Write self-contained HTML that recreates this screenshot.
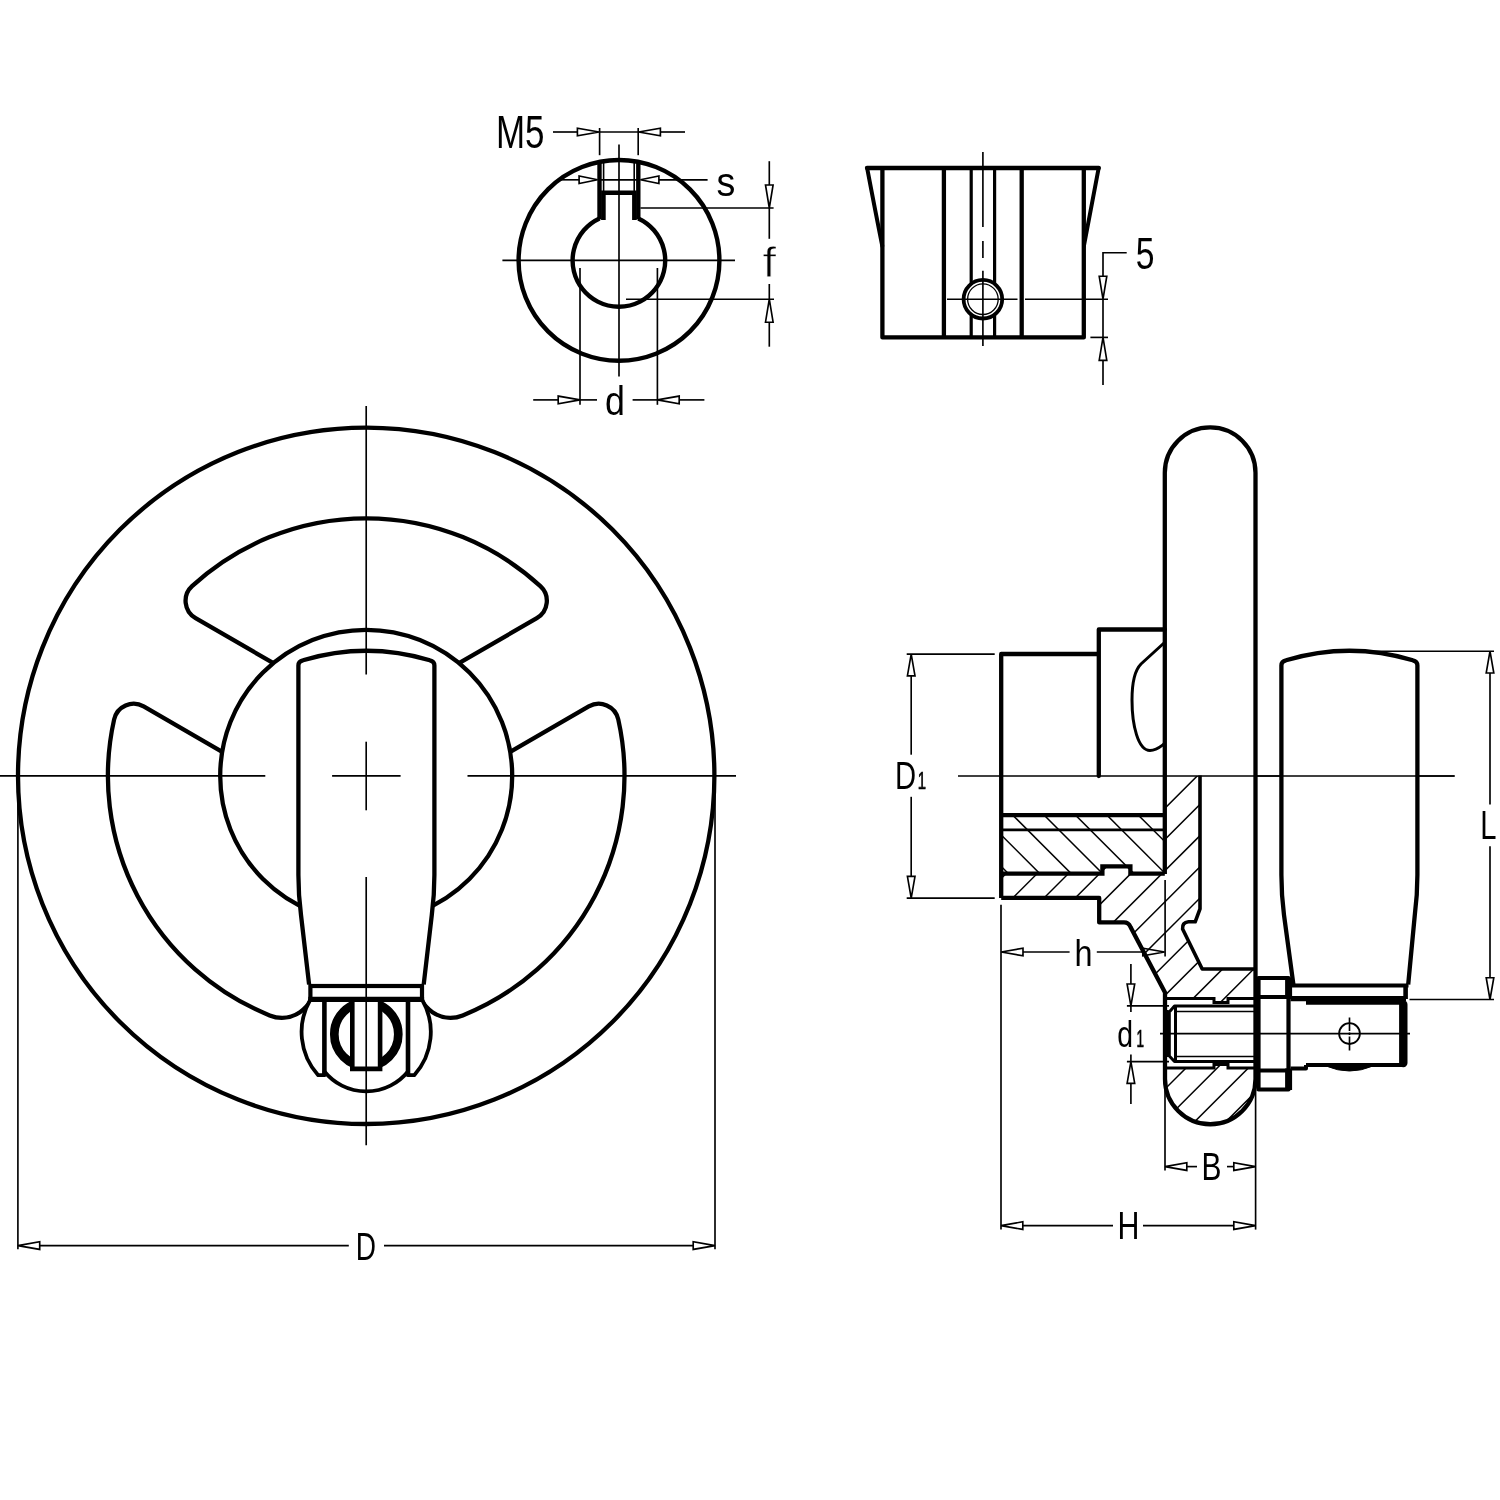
<!DOCTYPE html>
<html><head><meta charset="utf-8"><title>Handwheel drawing</title>
<style>
html,body{margin:0;padding:0;background:#fff}
svg{display:block}
svg *{stroke:#000}
text{font-family:"Liberation Sans",sans-serif;stroke:none;filter:grayscale(1)}
text.sb{stroke:#000;stroke-width:3px}
text.er{stroke:#fff;stroke-width:2.4px}
</style></head>
<body>
<svg width="1500" height="1500" viewBox="0 0 1500 1500" fill="none" stroke="#000" stroke-linecap="butt">
<rect x="0" y="0" width="1500" height="1500" fill="#fff" stroke="none" style="stroke:none"/>
<circle cx="619" cy="260.4" r="100.4" stroke-width="4.4" fill="none"/>
<path d="M599.5,218.41 A46.3,46.3 0 1 0 638.3,218.41" stroke-width="4.4" fill="none"/>
<line x1="599.5" y1="161.91" x2="599.5" y2="219.41" stroke-width="4.4"/>
<line x1="638.3" y1="161.91" x2="638.3" y2="219.41" stroke-width="4.4"/>
<path d="M603.4,219.91 V192.8 H634.4 V219.91" stroke-width="4.6" fill="none" stroke-linejoin="miter"/>
<line x1="603.6" y1="162.91" x2="603.6" y2="191" stroke-width="1.6"/>
<line x1="634.2" y1="162.91" x2="634.2" y2="191" stroke-width="1.6"/>
<line x1="502.4" y1="260.4" x2="735" y2="260.4" stroke-width="1.65"/>
<line x1="619" y1="144.4" x2="619" y2="376.5" stroke-width="1.65"/>
<line x1="599.6" y1="128" x2="599.6" y2="155.2" stroke-width="1.65"/>
<line x1="638.2" y1="128" x2="638.2" y2="155.2" stroke-width="1.65"/>
<polygon points="599.2,132 577.4,135.8 577.4,128.2" fill="none" stroke-width="1.65" stroke-linejoin="miter" stroke-miterlimit="3"/>
<line x1="553" y1="132" x2="577.4" y2="132" stroke-width="1.65"/>
<polygon points="638.6,132 660.4,128.2 660.4,135.8" fill="none" stroke-width="1.65" stroke-linejoin="miter" stroke-miterlimit="3"/>
<line x1="660.4" y1="132" x2="685" y2="132" stroke-width="1.65"/>
<line x1="599.6" y1="132" x2="638.2" y2="132" stroke-width="1.65"/>
<text transform="translate(496,148.2) scale(0.3496,0.4551)" font-size="100" fill="#000">M5</text>
<polygon points="597.6,179.8 579.1,183.6 579.1,176" fill="none" stroke-width="1.65" stroke-linejoin="miter" stroke-miterlimit="3"/>
<line x1="560" y1="179.8" x2="579.1" y2="179.8" stroke-width="1.65"/>
<polygon points="640.4,179.8 658.9,176 658.9,183.6" fill="none" stroke-width="1.65" stroke-linejoin="miter" stroke-miterlimit="3"/>
<line x1="658.9" y1="179.8" x2="707.6" y2="179.8" stroke-width="1.65"/>
<line x1="601" y1="179.8" x2="637" y2="179.8" stroke-width="1.65"/>
<text transform="translate(716.47,195.6) scale(0.3770,0.4037)" font-size="100" fill="#000">s</text>
<line x1="640.4" y1="208" x2="773.6" y2="208" stroke-width="1.65"/>
<line x1="626" y1="299.2" x2="774" y2="299.2" stroke-width="1.65"/>
<line x1="769.3" y1="161.2" x2="769.3" y2="185" stroke-width="1.65"/>
<polygon points="769.3,208 765.5,185 773.1,185" fill="none" stroke-width="1.65" stroke-linejoin="miter" stroke-miterlimit="3"/>
<line x1="769.3" y1="208" x2="769.3" y2="238.8" stroke-width="1.65"/>
<line x1="769.3" y1="284" x2="769.3" y2="299.2" stroke-width="1.65"/>
<polygon points="769.3,299.2 773.1,322.2 765.5,322.2" fill="none" stroke-width="1.65" stroke-linejoin="miter" stroke-miterlimit="3"/>
<line x1="769.3" y1="322" x2="769.3" y2="346.7" stroke-width="1.65"/>
<text transform="translate(762.14,277) scale(0.5057,0.4303)" font-size="100" fill="#000" class="er">f</text>
<line x1="580" y1="268" x2="580" y2="404.8" stroke-width="1.65"/>
<line x1="657.4" y1="268" x2="657.4" y2="404.8" stroke-width="1.65"/>
<polygon points="580,399.9 558.2,403.7 558.2,396.1" fill="none" stroke-width="1.65" stroke-linejoin="miter" stroke-miterlimit="3"/>
<line x1="533.2" y1="399.9" x2="558.2" y2="399.9" stroke-width="1.65"/>
<line x1="580" y1="399.9" x2="597" y2="399.9" stroke-width="1.65"/>
<polygon points="657.4,399.9 679.2,396.1 679.2,403.7" fill="none" stroke-width="1.65" stroke-linejoin="miter" stroke-miterlimit="3"/>
<line x1="679.2" y1="399.9" x2="704.4" y2="399.9" stroke-width="1.65"/>
<line x1="632.6" y1="399.9" x2="657.4" y2="399.9" stroke-width="1.65"/>
<text transform="translate(605.07,415.39) scale(0.3578,0.4150)" font-size="100" fill="#000">d</text>
<path d="M867,168 H1098.8" stroke-width="4.3" fill="none" stroke-linecap="round"/>
<path d="M882.4,168 V337.4 H1083.8 V168" stroke-width="4.3" fill="none" stroke-linejoin="round"/>
<path d="M867.2,168.3 Q875.5,212 882.3,246" stroke-width="4" fill="none" stroke-linecap="round"/>
<path d="M1098.6,168.3 Q1090.5,212 1083.9,246" stroke-width="4" fill="none" stroke-linecap="round"/>
<line x1="943.9" y1="168" x2="943.9" y2="337.4" stroke-width="4.3"/>
<line x1="1021.7" y1="168" x2="1021.7" y2="337.4" stroke-width="4.3"/>
<line x1="971.2" y1="168" x2="971.2" y2="337.4" stroke-width="3.2"/>
<line x1="994.6" y1="168" x2="994.6" y2="337.4" stroke-width="3.2"/>
<circle cx="982.9" cy="299.2" r="19.3" stroke-width="3.8" fill="#fff"/>
<circle cx="982.9" cy="299.2" r="15.3" stroke-width="1.3" fill="none"/>
<line x1="982.9" y1="152" x2="982.9" y2="227" stroke-width="1.65"/>
<line x1="982.9" y1="241" x2="982.9" y2="258" stroke-width="1.65"/>
<line x1="982.9" y1="270.8" x2="982.9" y2="346" stroke-width="1.65"/>
<line x1="947" y1="299.2" x2="1017.5" y2="299.2" stroke-width="1.65"/>
<line x1="1025" y1="299.2" x2="1108" y2="299.2" stroke-width="1.65"/>
<path d="M1126.7,252.7 H1103 V276" stroke-width="1.65" fill="none"/>
<polygon points="1103,299.2 1099.2,276.2 1106.8,276.2" fill="none" stroke-width="1.65" stroke-linejoin="miter" stroke-miterlimit="3"/>
<line x1="1103" y1="299.2" x2="1103" y2="337.4" stroke-width="1.65"/>
<line x1="1090.4" y1="337.4" x2="1108" y2="337.4" stroke-width="1.65"/>
<polygon points="1103,337.4 1106.8,360.4 1099.2,360.4" fill="none" stroke-width="1.65" stroke-linejoin="miter" stroke-miterlimit="3"/>
<line x1="1103" y1="360.4" x2="1103" y2="385" stroke-width="1.65"/>
<text transform="translate(1135.65,268.56) scale(0.3368,0.4429)" font-size="100" fill="#000">5</text>
<circle cx="366.2" cy="775.8" r="348.2" stroke-width="4.3" fill="none"/>
<path d="M273.39,663.1 L195.58,618.17 A20,20 0 0 1 192.05,586.12 A257.5,257.5 0 0 1 540.35,586.12 A20,20 0 0 1 536.82,618.17 L459.01,663.1" stroke-width="4.3" fill="none" stroke-linejoin="round"/>
<path d="M314.2,912.23 L314.2,985.34 A32.4,32.4 0 0 1 269.69,1015.39 A258.3,258.3 0 0 1 114.14,719.39 A20,20 0 0 1 143.65,706.43 L222.19,751.78" stroke-width="4.3" fill="none" stroke-linejoin="round"/>
<path d="M510.21,751.78 L588.75,706.43 A20,20 0 0 1 618.26,719.39 A258.3,258.3 0 0 1 462.71,1015.39 A32.4,32.4 0 0 1 418.2,985.34 L418.2,912.23" stroke-width="4.3" fill="none" stroke-linejoin="round"/>
<circle cx="366.2" cy="775.8" r="146" stroke-width="4.3" fill="none"/>
<path d="M310.37,999.5 A64.6,64.6 0 0 0 318.17,1075.2 L324.4,1075.2 L324.4,1071.5 A53.8,53.8 0 0 0 408,1071.5 L408,1075.2 L414.23,1075.2 A64.6,64.6 0 0 0 422.03,999.5 Z" stroke-width="3.8" fill="#fff" stroke-linejoin="round"/>
<line x1="324.4" y1="1000" x2="324.4" y2="1074" stroke-width="4.6"/>
<line x1="408" y1="1000" x2="408" y2="1074" stroke-width="4.6"/>
<clipPath id="rc"><rect x="320" y="1000" width="33" height="80"/><rect x="379.5" y="1000" width="33" height="80"/></clipPath>
<circle cx="366.3" cy="1034.2" r="32" stroke-width="8.7" fill="none" clip-path="url(#rc)"/>
<path d="M352.3,1000 V1068.9 M380.1,1000 V1068.9 M350,1068.9 H382.4" stroke-width="4.6" fill="none"/>
<path d="M309.1,984.5 L301,915 Q298.4,895 298.4,875 L298.4,665.5 Q298.4,661.2 303,660.3 A220,220 0 0 1 429.8,660.3 Q434.4,661.2 434.4,665.5 L434.4,875 Q434.4,895 431.8,915 L423.7,984.5" stroke-width="4.3" fill="#fff" stroke-linejoin="round"/>
<rect x="310.4" y="986" width="111.6" height="13.2" fill="#fff" stroke-width="4.2"/>
<line x1="308.3" y1="999.4" x2="424.1" y2="999.4" stroke-width="5.2"/>
<line x1="366.2" y1="406" x2="366.2" y2="674.5" stroke-width="1.65"/>
<line x1="366.2" y1="741.7" x2="366.2" y2="810.3" stroke-width="1.65"/>
<line x1="366.2" y1="877" x2="366.2" y2="1145.3" stroke-width="1.65"/>
<line x1="0" y1="775.8" x2="265.3" y2="775.8" stroke-width="1.65"/>
<line x1="332.1" y1="775.8" x2="400.6" y2="775.8" stroke-width="1.65"/>
<line x1="467.5" y1="775.8" x2="736" y2="775.8" stroke-width="1.65"/>
<line x1="17.9" y1="776" x2="17.9" y2="1249.3" stroke-width="1.65"/>
<line x1="715" y1="776" x2="715" y2="1249.3" stroke-width="1.65"/>
<polygon points="17.9,1245.6 39.7,1241.8 39.7,1249.4" fill="none" stroke-width="1.65" stroke-linejoin="miter" stroke-miterlimit="3"/>
<line x1="39.7" y1="1245.6" x2="348.8" y2="1245.6" stroke-width="1.65"/>
<polygon points="715,1245.6 693.2,1249.4 693.2,1241.8" fill="none" stroke-width="1.65" stroke-linejoin="miter" stroke-miterlimit="3"/>
<line x1="384" y1="1245.6" x2="693.2" y2="1245.6" stroke-width="1.65"/>
<text transform="translate(355.75,1259.5) scale(0.2807,0.3913)" font-size="100" fill="#000">D</text>
<path d="M1164.8,874 V472.8 A45.35,45.35 0 0 1 1255.5,472.8 V1079" stroke-width="4.3" fill="none"/>
<path d="M1001.2,898 V654 H1098.8" stroke-width="4.3" fill="none" stroke-linejoin="round"/>
<path d="M1098.8,776 V629.5 H1164.8" stroke-width="4.3" fill="none" stroke-linejoin="round" stroke-linecap="round"/>
<path d="M1164,643 L1141,664 C1133,672 1132,690 1132,700 C1132,725 1138,750.5 1150,750.5 C1156,750.5 1160,747 1164,744" stroke-width="3" fill="none"/>
<clipPath id="cb"><path d="M1001.2,873.6 H1102.4 V866.4 H1130.4 V873.6 H1164.8 V776 H1200 V908.8 L1195.2,921.8 H1188.5 Q1182,922.5 1182.6,929 L1202.2,969 H1255.5 V998.5 H1228 V1002.5 H1214 V998.5 H1165 V992.5 L1130.5,927 Q1128.5,922.4 1124,922.4 H1099.2 V897.9 H1001.2 Z"/><path d="M1165,1068 H1214 V1064.5 H1228 V1068 H1255.5 V1079 A45.25,45.25 0 0 1 1165,1079 Z"/></clipPath>
<clipPath id="ci"><rect x="1001.2" y="815.2" width="163.6" height="58.4"/></clipPath>
<g clip-path="url(#cb)">
<line x1="1148.4" y1="700" x2="648.4" y2="1200" stroke-width="1.5"/>
<line x1="1179.6" y1="700" x2="679.6" y2="1200" stroke-width="1.5"/>
<line x1="1210.8" y1="700" x2="710.8" y2="1200" stroke-width="1.5"/>
<line x1="1242" y1="700" x2="742" y2="1200" stroke-width="1.5"/>
<line x1="1273.2" y1="700" x2="773.2" y2="1200" stroke-width="1.5"/>
<line x1="1304.4" y1="700" x2="804.4" y2="1200" stroke-width="1.5"/>
<line x1="1335.6" y1="700" x2="835.6" y2="1200" stroke-width="1.5"/>
<line x1="1366.8" y1="700" x2="866.8" y2="1200" stroke-width="1.5"/>
<line x1="1398" y1="700" x2="898" y2="1200" stroke-width="1.5"/>
<line x1="1429.2" y1="700" x2="929.2" y2="1200" stroke-width="1.5"/>
<line x1="1460.4" y1="700" x2="960.4" y2="1200" stroke-width="1.5"/>
<line x1="1491.6" y1="700" x2="991.6" y2="1200" stroke-width="1.5"/>
<line x1="1522.8" y1="700" x2="1022.8" y2="1200" stroke-width="1.5"/>
<line x1="1554" y1="700" x2="1054" y2="1200" stroke-width="1.5"/>
<line x1="1585.2" y1="700" x2="1085.2" y2="1200" stroke-width="1.5"/>
<line x1="1616.4" y1="700" x2="1116.4" y2="1200" stroke-width="1.5"/>
<line x1="1647.6" y1="700" x2="1147.6" y2="1200" stroke-width="1.5"/>
<line x1="1678.8" y1="700" x2="1178.8" y2="1200" stroke-width="1.5"/>
<line x1="1710" y1="700" x2="1210" y2="1200" stroke-width="1.5"/>
</g>
<g clip-path="url(#ci)">
<line x1="903.4" y1="800" x2="1003.4" y2="900" stroke-width="1.5"/>
<line x1="934.8" y1="800" x2="1034.8" y2="900" stroke-width="1.5"/>
<line x1="966.2" y1="800" x2="1066.2" y2="900" stroke-width="1.5"/>
<line x1="997.6" y1="800" x2="1097.6" y2="900" stroke-width="1.5"/>
<line x1="1029" y1="800" x2="1129" y2="900" stroke-width="1.5"/>
<line x1="1060.4" y1="800" x2="1160.4" y2="900" stroke-width="1.5"/>
<line x1="1091.8" y1="800" x2="1191.8" y2="900" stroke-width="1.5"/>
<line x1="1123.2" y1="800" x2="1223.2" y2="900" stroke-width="1.5"/>
<line x1="1154.6" y1="800" x2="1254.6" y2="900" stroke-width="1.5"/>
<line x1="1186" y1="800" x2="1286" y2="900" stroke-width="1.5"/>
</g>
<line x1="1001.2" y1="815.2" x2="1164.8" y2="815.2" stroke-width="4.3"/>
<line x1="1001.2" y1="829.9" x2="1164.8" y2="829.9" stroke-width="2.6"/>
<path d="M1001.2,873.6 H1102.4 V866.4 H1130.4 V873.6 H1164.8" stroke-width="4.3" fill="none" stroke-linejoin="miter"/>
<path d="M1001.2,897.9 H1099.2 V922.4 H1124 Q1128.5,922.4 1130.5,927 L1165,992.5 V1079 A45.25,45.25 0 0 0 1255.5,1079" stroke-width="4.3" fill="none" stroke-linejoin="round"/>
<path d="M1200,775.4 V908.8 L1195.2,921.8 H1188.5 Q1182,922.5 1182.6,929 L1202.2,969 H1254" stroke-width="3.6" fill="none" stroke-linejoin="round"/>
<path d="M1165,998.5 H1214 V1002.5 H1228 V998.5 H1254" stroke-width="3" fill="none"/>
<path d="M1165,1068 H1214 V1064.5 H1228 V1068 H1254" stroke-width="3" fill="none"/>
<path d="M1254,1006 H1174.5 L1169.3,1012 V1056 L1174.5,1061.5 H1254" stroke-width="3" fill="none" stroke-linejoin="round"/>
<line x1="1175.5" y1="1006" x2="1175.5" y2="1061.5" stroke-width="3"/>
<line x1="1167.6" y1="1010" x2="1167.6" y2="1057" stroke-width="2.4"/>
<line x1="1175.5" y1="1011.5" x2="1254" y2="1011.5" stroke-width="1.5"/>
<line x1="1175.5" y1="1056.5" x2="1254" y2="1056.5" stroke-width="1.5"/>
<line x1="958" y1="776" x2="1454.6" y2="776" stroke-width="1.65"/>
<rect x="1258.5" y="978" width="30" height="111.5" fill="#fff" stroke-width="4.2" stroke-linejoin="round"/>
<line x1="1258.5" y1="997" x2="1288.5" y2="997" stroke-width="4"/>
<line x1="1258.5" y1="1070.5" x2="1288.5" y2="1070.5" stroke-width="4"/>
<line x1="1288.6" y1="977.5" x2="1288.6" y2="999" stroke-width="7"/>
<line x1="1288.6" y1="1068.5" x2="1288.6" y2="1090" stroke-width="7"/>
<path d="M1293.4,984.5 L1284,915 Q1281.4,895 1281.4,875 L1281.4,665.5 Q1281.4,661.2 1286,660.3 A220,220 0 0 1 1412.8,660.3 Q1417.4,661.2 1417.4,665.5 L1417.4,875 Q1417.4,895 1414.8,915 L1408.2,984.5" stroke-width="4.3" fill="#fff" stroke-linejoin="round"/>
<line x1="1255" y1="776" x2="1454.6" y2="776" stroke-width="1.65"/>
<line x1="1290.5" y1="985.5" x2="1408.5" y2="985.5" stroke-width="4.2"/>
<line x1="1405.6" y1="985.5" x2="1405.6" y2="999" stroke-width="4.6"/>
<line x1="1290.5" y1="998.6" x2="1406" y2="998.6" stroke-width="5.4"/>
<line x1="1306" y1="1002.4" x2="1404" y2="1002.4" stroke-width="4.6"/>
<path d="M1403.3,1004.5 V1063" stroke-width="8.4" fill="none" stroke-linecap="round"/>
<line x1="1306" y1="1065" x2="1403" y2="1065" stroke-width="4.2"/>
<path d="M1306,1065 V1068.5 H1290.5" stroke-width="4" fill="none" stroke-linejoin="round"/>
<path d="M1326,1066 Q1349.5,1076 1373,1066 Z" stroke-width="1" fill="#000"/>
<line x1="1160" y1="1033.6" x2="1410" y2="1033.6" stroke-width="1.65"/>
<circle cx="1349.5" cy="1033.6" r="10.4" stroke-width="1.8" fill="none"/>
<line x1="1349.5" y1="1017.5" x2="1349.5" y2="1031" stroke-width="1.65"/>
<line x1="1349.5" y1="1032.5" x2="1349.5" y2="1035" stroke-width="1.65"/>
<line x1="1349.5" y1="1036.5" x2="1349.5" y2="1050.5" stroke-width="1.65"/>
<line x1="906.7" y1="654.1" x2="994.7" y2="654.1" stroke-width="1.65"/>
<line x1="906.7" y1="898.1" x2="994.7" y2="898.1" stroke-width="1.65"/>
<polygon points="911.2,654.1 915,675.9 907.4,675.9" fill="none" stroke-width="1.65" stroke-linejoin="miter" stroke-miterlimit="3"/>
<line x1="911.2" y1="676" x2="911.2" y2="754.7" stroke-width="1.65"/>
<polygon points="911.2,898.1 907.4,876.3 915,876.3" fill="none" stroke-width="1.65" stroke-linejoin="miter" stroke-miterlimit="3"/>
<line x1="911.2" y1="796.8" x2="911.2" y2="876.1" stroke-width="1.65"/>
<text transform="translate(895.06,789.2) scale(0.2924,0.3913)" font-size="100" fill="#000">D</text>
<text transform="translate(917.68,789.2) scale(0.1488,0.2435)" font-size="100" fill="#000" class="sb">1</text>
<line x1="1001" y1="904.8" x2="1001" y2="1229.6" stroke-width="1.65"/>
<line x1="1165.1" y1="880" x2="1165.1" y2="956.5" stroke-width="1.65"/>
<polygon points="1001.2,952 1023,948.2 1023,955.8" fill="none" stroke-width="1.65" stroke-linejoin="miter" stroke-miterlimit="3"/>
<line x1="1023" y1="952" x2="1069.6" y2="952" stroke-width="1.65"/>
<polygon points="1164.6,952 1142.8,955.8 1142.8,948.2" fill="none" stroke-width="1.65" stroke-linejoin="miter" stroke-miterlimit="3"/>
<line x1="1096.8" y1="952" x2="1142.8" y2="952" stroke-width="1.65"/>
<text transform="translate(1074.53,965.6) scale(0.3238,0.3641)" font-size="100" fill="#000">h</text>
<line x1="1126.9" y1="1005.8" x2="1169" y2="1005.8" stroke-width="1.65"/>
<line x1="1126.9" y1="1061.6" x2="1169" y2="1061.6" stroke-width="1.65"/>
<line x1="1130.9" y1="964" x2="1130.9" y2="984" stroke-width="1.65"/>
<polygon points="1130.9,1005.8 1127.1,984 1134.7,984" fill="none" stroke-width="1.65" stroke-linejoin="miter" stroke-miterlimit="3"/>
<line x1="1130.9" y1="1005.8" x2="1130.9" y2="1012" stroke-width="1.65"/>
<line x1="1130.9" y1="1054.4" x2="1130.9" y2="1061.6" stroke-width="1.65"/>
<polygon points="1130.9,1061.6 1134.7,1083.4 1127.1,1083.4" fill="none" stroke-width="1.65" stroke-linejoin="miter" stroke-miterlimit="3"/>
<line x1="1130.9" y1="1083.6" x2="1130.9" y2="1104" stroke-width="1.65"/>
<text transform="translate(1117.26,1047.04) scale(0.2844,0.3619)" font-size="100" fill="#000">d</text>
<text transform="translate(1136.59,1047.2) scale(0.1349,0.2377)" font-size="100" fill="#000" class="sb">1</text>
<line x1="1165" y1="1079" x2="1165" y2="1170.4" stroke-width="1.65"/>
<line x1="1255.6" y1="1090" x2="1255.6" y2="1229.6" stroke-width="1.65"/>
<polygon points="1165,1166.6 1186.8,1162.8 1186.8,1170.4" fill="none" stroke-width="1.65" stroke-linejoin="miter" stroke-miterlimit="3"/>
<line x1="1186.8" y1="1166.6" x2="1197" y2="1166.6" stroke-width="1.65"/>
<polygon points="1255.6,1166.6 1233.8,1170.4 1233.8,1162.8" fill="none" stroke-width="1.65" stroke-linejoin="miter" stroke-miterlimit="3"/>
<line x1="1227" y1="1166.6" x2="1233.8" y2="1166.6" stroke-width="1.65"/>
<text transform="translate(1201.61,1180) scale(0.2991,0.3826)" font-size="100" fill="#000">B</text>
<polygon points="1001,1225.6 1022.8,1221.8 1022.8,1229.4" fill="none" stroke-width="1.65" stroke-linejoin="miter" stroke-miterlimit="3"/>
<line x1="1022.8" y1="1225.6" x2="1113" y2="1225.6" stroke-width="1.65"/>
<polygon points="1255.6,1225.6 1233.8,1229.4 1233.8,1221.8" fill="none" stroke-width="1.65" stroke-linejoin="miter" stroke-miterlimit="3"/>
<line x1="1143" y1="1225.6" x2="1233.8" y2="1225.6" stroke-width="1.65"/>
<text transform="translate(1117.57,1238.6) scale(0.3036,0.3855)" font-size="100" fill="#000">H</text>
<line x1="1373.5" y1="651.2" x2="1494" y2="651.2" stroke-width="1.65"/>
<line x1="1409.5" y1="999.5" x2="1494" y2="999.5" stroke-width="1.65"/>
<polygon points="1490,651.2 1493.8,673 1486.2,673" fill="none" stroke-width="1.65" stroke-linejoin="miter" stroke-miterlimit="3"/>
<line x1="1490" y1="673" x2="1490" y2="804.6" stroke-width="1.65"/>
<polygon points="1490,999.5 1486.2,977.7 1493.8,977.7" fill="none" stroke-width="1.65" stroke-linejoin="miter" stroke-miterlimit="3"/>
<line x1="1490" y1="846.2" x2="1490" y2="977.5" stroke-width="1.65"/>
<text transform="translate(1480.36,839.3) scale(0.2921,0.4029)" font-size="100" fill="#000">L</text>
</svg>
</body></html>
